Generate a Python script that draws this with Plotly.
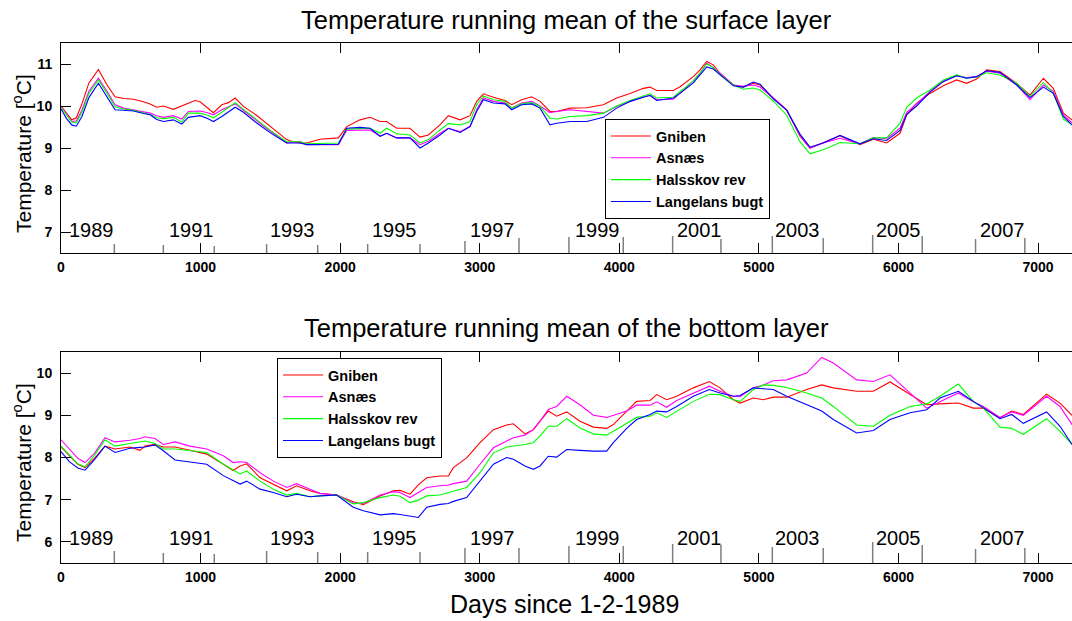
import plotly.graph_objects as go

# ---------------- data ----------------
stations = ["Gniben", "Asnæs", "Halsskov rev", "Langelans bugt"]
colors = ["#ff0000", "#ff00ff", "#00ff00", "#0000ff"]

days_surface = [0, 40, 77, 110, 150, 200, 268, 330, 387, 450, 520, 590, 638, 686, 734, 805, 865, 912, 960, 996,
                1050, 1092, 1152, 1200, 1248, 1307, 1400, 1500, 1617, 1660, 1712, 1760, 1855, 1987, 2047, 2142,
                2214, 2286, 2333, 2405, 2500, 2572, 2632, 2715, 2775, 2859, 2930, 2978, 3026, 3098, 3181, 3229,
                3300, 3372, 3432, 3503, 3551, 3647, 3766, 3886, 3981, 4077, 4172, 4220, 4268, 4387, 4435, 4530,
                4578, 4626, 4673, 4721, 4817, 4888, 4960, 5008, 5103, 5199, 5294, 5366, 5461, 5581, 5724, 5820,
                5915, 6011, 6059, 6130, 6226, 6321, 6417, 6488, 6560, 6632, 6727, 6847, 6942, 7038, 7109, 7181, 7243]

surf_gniben = [10.0, 9.82, 9.67, 9.72, 10.05, 10.55, 10.87, 10.5, 10.22, 10.18, 10.16, 10.1, 10.05, 9.97, 10.0, 9.92,
               10.0, 10.08, 10.13, 10.1, 9.95, 9.84, 10.03, 10.08, 10.19, 9.99, 9.78, 9.52, 9.2, 9.15, 9.12, 9.12,
               9.21, 9.24, 9.51, 9.67, 9.73, 9.63, 9.63, 9.47, 9.47, 9.26, 9.31, 9.55, 9.77, 9.67, 9.77, 10.11,
               10.29, 10.21, 10.13, 10.03, 10.15, 10.22, 10.11, 9.87, 9.87, 9.95, 9.96, 10.03, 10.19, 10.3, 10.42,
               10.45, 10.37, 10.37, 10.46, 10.7, 10.86, 11.06, 10.98, 10.78, 10.5, 10.45, 10.54, 10.5, 10.19, 9.91,
               9.28, 9.0, 9.13, 9.29, 9.08, 9.21, 9.12, 9.35, 9.79, 10.07, 10.3, 10.48, 10.62, 10.54, 10.64, 10.86,
               10.82, 10.54, 10.26, 10.66, 10.42, 9.83, 9.67]
surf_asnaes = [10.0, 9.8, 9.63, 9.65, 9.9, 10.35, 10.66, 10.35, 10.03, 9.95, 9.91, 9.86, 9.83, 9.77, 9.73, 9.77,
               9.69, 9.87, 9.88, 9.88, 9.84, 9.79, 9.91, 9.98, 10.05, 9.9, 9.65, 9.4, 9.12, 9.13, 9.16, 9.08,
               9.08, 9.08, 9.42, 9.43, 9.43, 9.28, 9.35, 9.24, 9.24, 9.08, 9.16, 9.35, 9.47, 9.39, 9.51, 9.91,
               10.19, 10.11, 10.07, 9.95, 10.07, 10.11, 10.0, 9.84, 9.87, 9.91, 9.87, 9.83, 9.99, 10.11, 10.22,
               10.26, 10.15, 10.16, 10.3, 10.6, 10.78, 11.02, 10.92, 10.78, 10.5, 10.47, 10.5, 10.45, 10.19, 9.9,
               9.3, 9.0, 9.12, 9.23, 9.1, 9.25, 9.22, 9.47, 9.85, 10.05, 10.35, 10.6, 10.72, 10.68, 10.7, 10.83,
               10.78, 10.5, 10.15, 10.5, 10.35, 9.78, 9.6]
surf_halsskov = [9.97, 9.78, 9.62, 9.6, 9.85, 10.3, 10.62, 10.3, 9.98, 9.93, 9.9, 9.84, 9.8, 9.72, 9.7, 9.73,
                 9.62, 9.83, 9.84, 9.83, 9.78, 9.72, 9.85, 9.96, 10.08, 9.92, 9.68, 9.42, 9.15, 9.15, 9.15, 9.1,
                 9.11, 9.12, 9.45, 9.47, 9.47, 9.35, 9.47, 9.34, 9.31, 9.12, 9.2, 9.43, 9.58, 9.55, 9.63, 10.03,
                 10.24, 10.15, 10.11, 9.95, 10.05, 10.08, 9.99, 9.71, 9.69, 9.75, 9.77, 9.83, 10.0, 10.13, 10.24,
                 10.29, 10.19, 10.21, 10.34, 10.6, 10.79, 11.0, 10.92, 10.75, 10.5, 10.4, 10.43, 10.38, 10.12, 9.78,
                 9.15, 8.86, 8.96, 9.13, 9.1, 9.24, 9.24, 9.59, 9.97, 10.19, 10.38, 10.62, 10.74, 10.66, 10.69, 10.79,
                 10.74, 10.54, 10.22, 10.56, 10.3, 9.69, 9.55]
surf_langelans = [9.93, 9.7, 9.55, 9.52, 9.75, 10.2, 10.54, 10.2, 9.91, 9.9, 9.88, 9.82, 9.79, 9.68, 9.63, 9.67,
                  9.57, 9.73, 9.76, 9.77, 9.7, 9.63, 9.75, 9.85, 9.97, 9.85, 9.6, 9.36, 9.12, 9.12, 9.12, 9.08,
                  9.08, 9.09, 9.47, 9.49, 9.47, 9.28, 9.35, 9.24, 9.24, 9.0, 9.12, 9.31, 9.47, 9.37, 9.51, 9.87,
                  10.15, 10.07, 10.05, 9.91, 10.03, 10.05, 9.95, 9.55, 9.59, 9.63, 9.63, 9.73, 9.95, 10.11, 10.21,
                  10.25, 10.13, 10.19, 10.3, 10.55, 10.74, 10.93, 10.88, 10.75, 10.48, 10.45, 10.57, 10.52, 10.17, 9.9,
                  9.33, 9.02, 9.12, 9.3, 9.1, 9.22, 9.18, 9.42, 9.8, 10.0, 10.33, 10.58, 10.72, 10.66, 10.7, 10.84,
                  10.8, 10.5, 10.2, 10.45, 10.3, 9.75, 9.55]

days_bottom = [0, 60, 120, 172, 240, 315, 387, 494, 566, 602, 673, 733, 817, 924, 1044, 1163, 1233, 1283, 1330,
               1426, 1521, 1617, 1688, 1784, 1855, 1975, 2094, 2166, 2286, 2381, 2429, 2500, 2560, 2620, 2715,
               2775, 2811, 2906, 3002, 3098, 3193, 3241, 3324, 3384, 3432, 3491, 3551, 3623, 3718, 3814, 3909,
               3957, 4053, 4124, 4220, 4268, 4339, 4411, 4530, 4645, 4721, 4817, 4865, 4960, 5032, 5103, 5199,
               5342, 5450, 5533, 5700, 5820, 5939, 6083, 6202, 6297, 6429, 6536, 6608, 6727, 6811, 6894, 7061,
               7157, 7243]

bot_gniben = [8.25, 8.05, 7.84, 7.76, 7.98, 8.27, 8.2, 8.25, 8.17, 8.27, 8.31, 8.25, 8.25, 8.17, 8.08, 7.84, 7.69,
              7.8, 7.85, 7.52, 7.37, 7.21, 7.33, 7.21, 7.15, 7.11, 6.95, 6.88, 7.09, 7.21, 7.22, 7.13, 7.35, 7.52,
              7.56, 7.56, 7.76, 7.99, 8.35, 8.66, 8.77, 8.8, 8.56, 8.66, 8.86, 9.1, 8.98, 9.08, 8.86, 8.72, 8.69,
              8.78, 9.1, 9.33, 9.35, 9.49, 9.37, 9.45, 9.65, 9.8, 9.65, 9.37, 9.29, 9.41, 9.37, 9.43, 9.43, 9.61,
              9.72, 9.65, 9.57, 9.57, 9.79, 9.49, 9.25, 9.27, 9.29, 9.17, 9.17, 8.94, 9.1, 9.02, 9.5, 9.29, 9.0]
bot_asnaes = [8.42, 8.2, 7.98, 7.88, 8.1, 8.47, 8.37, 8.41, 8.45, 8.49, 8.45, 8.31, 8.37, 8.27, 8.2, 8.04, 7.88,
              7.9, 7.88, 7.64, 7.44, 7.29, 7.38, 7.25, 7.15, 7.11, 6.92, 6.91, 7.11, 7.19, 7.17, 7.05, 7.17, 7.29,
              7.33, 7.35, 7.38, 7.44, 7.84, 8.23, 8.39, 8.47, 8.53, 8.66, 8.86, 9.14, 9.21, 9.45, 9.25, 9.0, 8.95,
              9.0, 9.1, 9.24, 9.24, 9.32, 9.19, 9.35, 9.53, 9.69, 9.57, 9.45, 9.44, 9.65, 9.72, 9.82, 9.84, 10.0,
              10.37, 10.24, 9.84, 9.8, 9.96, 9.53, 9.17, 9.32, 9.53, 9.32, 9.21, 8.95, 9.08, 9.0, 9.45, 9.21, 8.78]
bot_halsskov = [8.27, 8.05, 7.85, 7.78, 8.05, 8.42, 8.27, 8.33, 8.37, 8.39, 8.33, 8.2, 8.2, 8.17, 8.12, 7.84, 7.7,
                7.61, 7.68, 7.44, 7.25, 7.11, 7.15, 7.07, 7.09, 7.11, 6.9, 6.93, 7.05, 7.11, 7.08, 6.93, 6.99, 7.09,
                7.11, 7.17, 7.2, 7.29, 7.64, 8.11, 8.25, 8.27, 8.31, 8.35, 8.51, 8.74, 8.74, 8.92, 8.7, 8.56, 8.53,
                8.62, 8.82, 8.95, 8.98, 9.06, 8.95, 9.1, 9.33, 9.5, 9.49, 9.37, 9.33, 9.61, 9.72, 9.71, 9.66, 9.53,
                9.41, 9.21, 8.77, 8.74, 9.0, 9.21, 9.27, 9.45, 9.74, 9.33, 9.17, 8.72, 8.69, 8.55, 8.92, 8.62, 8.31]
bot_langelans = [8.14, 7.9, 7.75, 7.7, 7.95, 8.27, 8.12, 8.22, 8.24, 8.25, 8.3, 8.16, 7.94, 7.9, 7.84, 7.57, 7.45,
                 7.37, 7.44, 7.25, 7.17, 7.07, 7.13, 7.07, 7.09, 7.11, 6.82, 6.74, 6.64, 6.67, 6.65, 6.62, 6.58, 6.82,
                 6.89, 6.91, 6.96, 7.05, 7.44, 7.84, 8.0, 7.96, 7.8, 7.72, 7.8, 8.03, 8.01, 8.19, 8.17, 8.15, 8.15,
                 8.35, 8.69, 8.9, 9.02, 9.1, 9.08, 9.21, 9.45, 9.61, 9.53, 9.45, 9.47, 9.65, 9.63, 9.61, 9.45, 9.25,
                 9.1, 8.9, 8.58, 8.64, 8.9, 9.06, 9.13, 9.41, 9.57, 9.33, 9.17, 8.92, 9.02, 8.81, 9.08, 8.74, 8.31]

year_labels = ["1989", "1991", "1993", "1995", "1997", "1999", "2001", "2003", "2005", "2007"]
year_label_days = [40, 757, 1485, 2214, 2918, 3671, 4399, 5104, 5825, 6572]
year_mark_days = [382, 733, 1098, 1473, 1839, 2197, 2572, 2894, 3281, 3639, 4028, 4382, 4728, 5096, 5461,
                  5815, 6170, 6552, 6905]

x_ticks = [0, 1000, 2000, 3000, 4000, 5000, 6000, 7000]
surf_yticks = [7, 8, 9, 10, 11]
bot_yticks = [6, 7, 8, 9, 10]
x_range = [0, 7243]
surf_range = [6.5, 11.5]
bot_range = [5.5, 10.5]

# ---------------- styling ----------------
FONT = "Liberation Sans, Arial, Helvetica, sans-serif"
W, H = 1072, 621
top_dom = [1 - 253 / H, 1 - 43 / H]
bot_dom = [1 - 563 / H, 1 - 352 / H]
surf_mark_px = [9, 8, 7, 9, 8, 9, 9, 12, 15, 16, 16, 17, 14, 17, 15, 18, 17, 14, 15]
bot_mark_px = [12, 10, 9, 12, 11, 11, 11, 15, 15, 17, 17, 19, 18, 16, 15, 21, 18, 14, 15]

fig = go.Figure()

surf_series = [surf_gniben, surf_asnaes, surf_halsskov, surf_langelans]
bot_series = [bot_gniben, bot_asnaes, bot_halsskov, bot_langelans]

for name, col, ys in zip(stations, colors, surf_series):
    fig.add_trace(go.Scatter(x=days_surface, y=ys, mode="lines", name=name,
                             line=dict(color=col, width=1.1), xaxis="x", yaxis="y",
                             legend="legend"))
for name, col, ys in zip(stations, colors, bot_series):
    fig.add_trace(go.Scatter(x=days_bottom, y=ys, mode="lines", name=name,
                             line=dict(color=col, width=1.1), xaxis="x2", yaxis="y2",
                             legend="legend2"))

tickfont = dict(family=FONT, size=14, color="black", weight="bold")
xcommon = dict(range=x_range, tickvals=x_ticks, ticks="inside", ticklen=10, tickcolor="black",
               showline=True, linecolor="black", linewidth=1, mirror="ticks", showgrid=False,
               zeroline=False, tickfont=tickfont, ticklabelstandoff=1, automargin=False)
ycommon = dict(ticks="inside", ticklen=10, tickcolor="black", showline=True, linecolor="black",
               linewidth=1, mirror=False, showgrid=False, zeroline=False, tickfont=tickfont,
               ticklabelstandoff=5, automargin=False)
yright = dict(side="right", ticks="inside", ticklen=5, tickcolor="black", showline=False,
              showgrid=False, zeroline=False, showticklabels=False)

legend_common = dict(bgcolor="white", bordercolor="black", borderwidth=1,
                     font=dict(family=FONT, size=14.5, color="black", weight="bold"),
                     xanchor="left", yanchor="top", itemwidth=40, tracegroupgap=0)

fig.update_layout(
    width=W, height=H, autosize=False,
    margin=dict(l=61, r=0, t=0, b=0),
    paper_bgcolor="white", plot_bgcolor="white",
    xaxis=dict(domain=[0, 1], anchor="y", **xcommon),
    yaxis=dict(domain=top_dom, anchor="x", range=surf_range, tickvals=surf_yticks, **ycommon),
    xaxis2=dict(domain=[0, 1], anchor="y2", **xcommon),
    yaxis2=dict(domain=bot_dom, anchor="x2", range=bot_range, tickvals=bot_yticks, **ycommon),
    yaxis3=dict(overlaying="y", anchor="x", range=surf_range, tickvals=surf_yticks, **yright),
    yaxis4=dict(overlaying="y2", anchor="x2", range=bot_range, tickvals=bot_yticks, **yright),
    legend=dict(x=(605 - 61) / 1011, y=1 - 119 / H, **legend_common),
    legend2=dict(x=(277 - 61) / 1011, y=1 - 358 / H, **legend_common),
    showlegend=True,
)

shapes = []
for d, h in zip(year_mark_days, surf_mark_px):
    shapes.append(dict(type="line", xref="x", yref="y", ysizemode="pixel", yanchor=surf_range[0],
                       x0=d, x1=d, y0=0, y1=h, line=dict(color="#7f7f7f", width=1.5)))
for d, h in zip(year_mark_days, bot_mark_px):
    shapes.append(dict(type="line", xref="x2", yref="y2", ysizemode="pixel", yanchor=bot_range[0],
                       x0=d, x1=d, y0=0, y1=h, line=dict(color="#7f7f7f", width=1.5)))
fig.update_layout(shapes=shapes)

ann = []
for lab, d in zip(year_labels, year_label_days):
    ann.append(dict(text=lab, x=d, y=7.05, xref="x", yref="y", xanchor="left", yanchor="middle",
                    showarrow=False, font=dict(family=FONT, size=20, color="black")))
    ann.append(dict(text=lab, x=d, y=6.1, xref="x2", yref="y2", xanchor="left", yanchor="middle",
                    showarrow=False, font=dict(family=FONT, size=20, color="black")))

title_font = dict(family=FONT, size=25.5, color="black")
ann.append(dict(text="Temperature running mean of the surface layer", x=0.5, y=1 - 20 / H,
                xref="paper", yref="paper", xanchor="center", yanchor="middle", showarrow=False,
                font=title_font))
ann.append(dict(text="Temperature running mean of the bottom layer", x=0.5, y=1 - 328 / H,
                xref="paper", yref="paper", xanchor="center", yanchor="middle", showarrow=False,
                font=title_font))
ann.append(dict(text="Days since 1-2-1989", x=(564 - 61) / 1011, y=1 - 604 / H,
                xref="paper", yref="paper", xanchor="center", yanchor="middle", showarrow=False,
                font=dict(family=FONT, size=25, color="black")))
for yc in (154, 463):
    ann.append(dict(text="Temperature [<sup>o</sup>C]", x=(22 - 61) / 1011, y=1 - yc / H,
                    xref="paper", yref="paper", xanchor="center", yanchor="middle", textangle=-90,
                    showarrow=False, font=dict(family=FONT, size=21, color="black")))
fig.update_layout(annotations=ann)

fig.write_html("out.html")
